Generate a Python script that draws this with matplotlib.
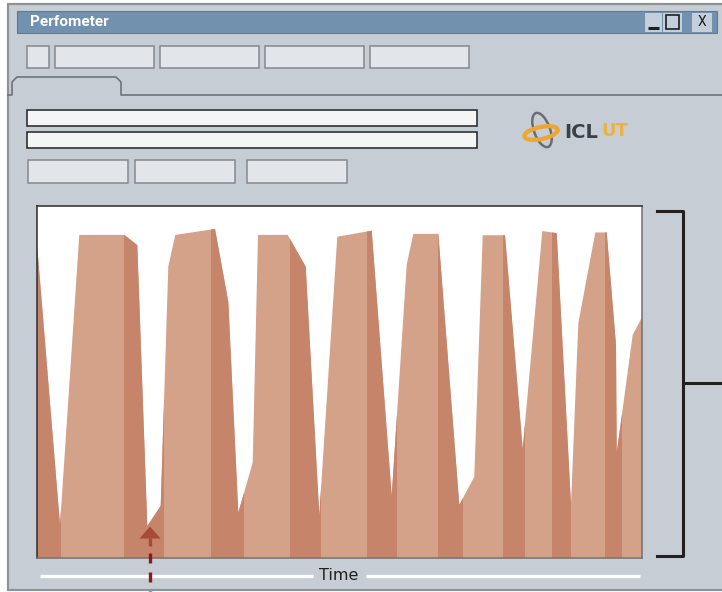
import numpy as np
import matplotlib
matplotlib.use('Agg')
import matplotlib.pyplot as plt
from matplotlib.patches import Rectangle, Polygon, Ellipse

# load trace of the Perfometer window (time in px-units, load in % of panel height)
time = [0, 22.7, 42, 87, 100, 110, 123.4, 131, 138, 177.7, 191, 201, 215.4, 220.7,
        250.4, 268.4, 282, 300, 334.4, 354.4, 369.4, 376, 401, 422, 437, 445.4,
        467.7, 485.4, 505, 519.4, 533.7, 541, 558, 569.4, 578.7, 579.4, 595.4, 605]
load = [88.0, 9.3, 91.7, 91.7, 88.8, 9.0, 14.7, 82.7, 91.7, 93.4, 72.7, 12.8, 27.0, 91.7,
        91.7, 82.7, 12.1, 91.2, 92.9, 17.5, 83.2, 92.0, 92.0, 15.0, 23.0, 91.6,
        91.6, 30.8, 92.8, 92.2, 15.0, 66.6, 92.4, 92.4, 60.4, 29.7, 63.3, 68.5]

# shaded (falling-edge) bands
dark_start = [0, 87, 173.7, 253, 329.4, 400.4, 466, 514.4, 567.7]
dark_end = [23.7, 127, 206.7, 283.4, 359.4, 425.4, 487.7, 533.7, 584.4]

top_buttons = [(27, 49), (55, 154), (160, 259), (265, 364), (370, 469)]
low_buttons = [(28, 128), (135, 235), (247, 347)]

W, H = 722, 592
fig = plt.figure(figsize=(W / 100, H / 100), dpi=100, facecolor='white')

# window chrome drawn in pixel coordinates
ui = fig.add_axes([0, 0, 1, 1])
ui.set_xlim(0, W)
ui.set_ylim(H, 0)
ui.axis('off')

ui.add_patch(Rectangle((8, 4), W, 586, facecolor='#C6CDD4', edgecolor='#8E9398', lw=1.6))
ui.add_patch(Rectangle((17, 11), 700, 22, facecolor='#7191AE', edgecolor='#5C7B97', lw=0.8))
ui.text(30, 22.5, 'Perfometer', color='white', fontsize=11, fontweight='bold',
        family=['Roboto', 'DejaVu Sans'], va='center', ha='left')

# minimise / maximise / close
for x0, x1 in [(645, 662), (663, 682), (692, 712)]:
    ui.add_patch(Rectangle((x0, 12.5), x1 - x0, 19, facecolor='#C3CFDB', edgecolor='none'))
ui.plot([648, 659], [28, 28], color='#1E1E1E', lw=2.2, solid_capstyle='butt')
ui.add_patch(Rectangle((666, 15), 13, 14, facecolor='none', edgecolor='#1E1E1E', lw=1.2))
ui.text(702, 22, 'X', color='#1E1E1E', fontsize=10, ha='center', va='center',
        family=['Roboto', 'DejaVu Sans'])

for x0, x1 in top_buttons:
    ui.add_patch(Rectangle((x0, 46), x1 - x0, 22, facecolor='#E2E6EB', edgecolor='#85898D', lw=1.1))

# tab outline
ui.plot([8, 12, 12, 17, 116, 121, 121, W], [95, 95, 82, 77, 77, 82, 95, 95],
        color='#6E7378', lw=1.2)

for y0 in (110, 132):
    ui.add_patch(Rectangle((27, y0), 450, 16, facecolor='#F4F6F5', edgecolor='#2E3236', lw=1.2))
for x0, x1 in low_buttons:
    ui.add_patch(Rectangle((x0, 160), x1 - x0, 23, facecolor='#E2E6EB', edgecolor='#85898D', lw=1.1))

# logo
ui.add_patch(Ellipse((542, 130), 16, 36, angle=-20, facecolor='none', edgecolor='#6A6E72', lw=1.8))
ui.add_patch(Ellipse((541, 133), 34, 12, angle=-12, facecolor='none', edgecolor='#EFA530', lw=3))
ui.text(564, 132, 'ICL', color='#3B4045', fontsize=14, fontweight='bold', va='center', ha='left')
ui.text(601, 131, 'UT', color='#EDB13C', fontsize=13, fontweight='bold', va='center', ha='left')

# bracket on the right
ui.plot([657, 682.5, 682.5, 657], [211, 211, 555.5, 555.5], color='#231F20', lw=2.2)
ui.plot([682.5, W], [383, 383], color='#231F20', lw=2.2)

# time axis label
ui.plot([40, 313], [575.5, 575.5], color='white', lw=2.4, solid_capstyle='butt')
ui.plot([366, 640], [575.5, 575.5], color='white', lw=2.4, solid_capstyle='butt')
ui.text(339, 576, 'Time', color='#231F20', fontsize=11.5, ha='center', va='center')

# the chart
ax = fig.add_axes([37.3 / W, 1 - 557.7 / H, 605 / W, 352 / H])
ax.set_xlim(0, 605)
ax.set_ylim(0, 100)
ax.set_facecolor('white')
ax.set_xticks([])
ax.set_yticks([])
for side in ['top', 'left']:
    ax.spines[side].set_color('#2B2B2B')
for side in ['bottom', 'right']:
    ax.spines[side].set_color('#6F6F6F')
for sp in ax.spines.values():
    sp.set_linewidth(1.1)

t = np.array(time)
v = np.array(load)
area = Polygon(np.column_stack([np.r_[t[0], t, t[-1]], np.r_[0, v, 0]]),
               closed=True, facecolor='#D4A189', edgecolor='none')
ax.add_patch(area)
for a, b in zip(dark_start, dark_end):
    band = ax.axvspan(a, b, color='#C6846A', lw=0)
    band.set_clip_path(area)

# marker arrow on top
top = fig.add_axes([0, 0, 1, 1], zorder=5)
top.set_xlim(0, W)
top.set_ylim(H, 0)
top.axis('off')
top.patch.set_alpha(0)
top.add_patch(Polygon([(139.5, 538.5), (160.5, 538.5), (150, 526.5)], closed=True,
                      facecolor='#A84A38', edgecolor='none'))
top.plot([150, 150], [538, 545.5], color='#A84A38', lw=2.4, solid_capstyle='butt')
top.plot([150, 150], [553, 592], color='#8B1A1A', lw=2.4, dashes=(3.0, 2.7), solid_capstyle='butt')

fig.savefig('out.png', dpi=100, facecolor='white')
